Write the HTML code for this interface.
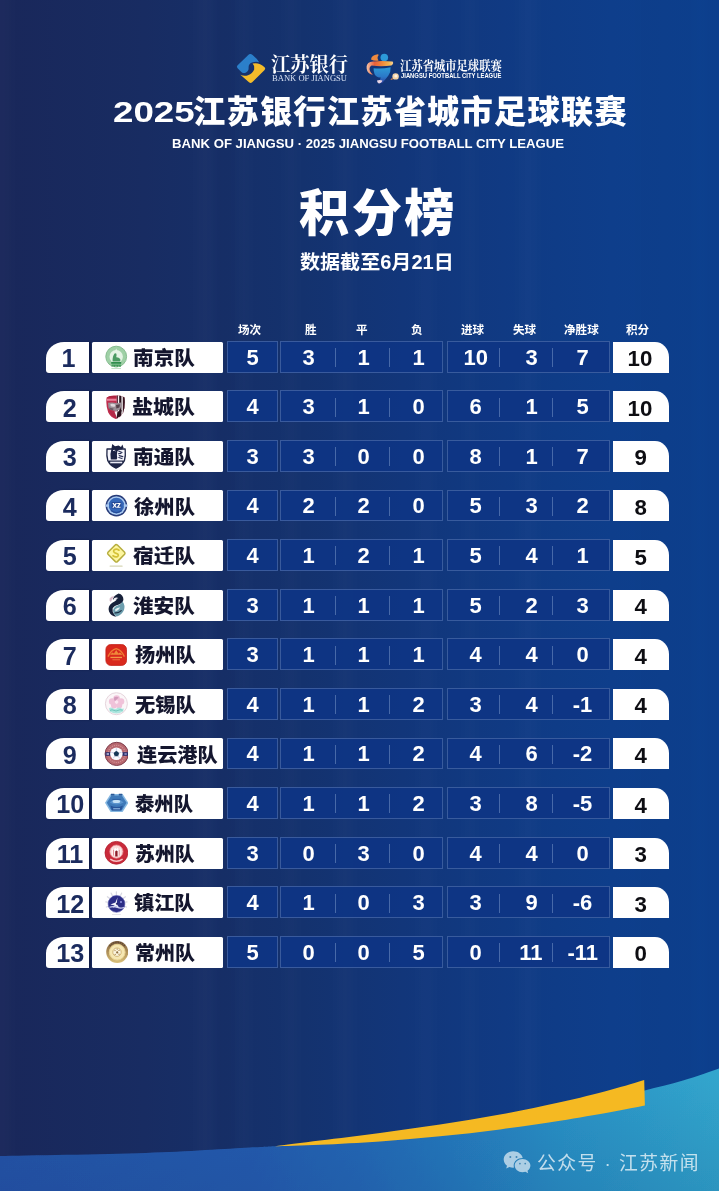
<!DOCTYPE html>
<html lang="zh-CN">
<head>
<meta charset="utf-8">
<title>2025江苏银行江苏省城市足球联赛 积分榜</title>
<style>
html,body{margin:0;padding:0;background:#14306f}
body{width:719px;height:1191px;overflow:hidden;font-family:"Liberation Sans",sans-serif}
.poster{position:relative;width:719px;height:1191px;overflow:hidden;background:#14306f}
.bg{position:absolute;left:0;top:0;width:719px;height:1191px;display:block}
h1,h2,p{margin:0;padding:0;font-weight:normal}
.t{position:absolute;display:block;line-height:0;white-space:nowrap}
.t svg{display:block;overflow:visible}
.t text{font-family:"Liberation Sans","Noto Sans CJK SC",sans-serif;text-anchor:middle}
.t text.n{font-size:22px;font-weight:bold;fill:#fff}
.t text.p{font-size:22.3px;font-weight:bold;fill:#0d0d12}
.t text.r{font-size:25.2px;font-weight:900;fill:#1b2b5e}
.t text.m{font-size:19.6px;font-weight:900;fill:#14162e}
.t text.h{font-size:11.6px;font-weight:bold;fill:#fff}
.t text.sf{font-family:"Liberation Serif","Noto Serif CJK SC",serif}
.hd,.tb,.wm{position:absolute;left:0;top:0;width:719px;height:0;filter:blur(.45px)}
.logo{position:absolute;height:32px;width:140px}
.logo>svg.ic{position:absolute;left:-1px;top:-1px;display:block}
.row{position:absolute;left:0;width:719px;height:31px}
.row>div{position:absolute;top:0;height:31px;box-sizing:border-box}
.rank{background:#fff;border-radius:18px 0 0 3px/16px 0 0 3px;box-shadow:1.5px 0 1.5px rgba(8,14,48,.5)}
.team{background:#fff;border-radius:1.5px}
.lg{position:absolute;left:12.6px;top:2.5px;width:24px;height:26px;display:block}
.lg svg{display:block;width:24px;height:26px}
.bx{background:rgba(14,53,132,.93);border:1px solid rgba(175,195,230,.27);top:-.8px!important;height:31.9px!important}
.bx .t{margin:-1px 0 0 -1px}
.bx s{position:absolute;top:6.2px;width:1px;height:19px;background:rgba(160,184,226,.4);margin-left:-1px}
.pts{background:#fff;border-radius:0 14px 0 0/0 15px 0 0}

</style>
</head>
<body>
<main class="poster">
<svg class="bg" width="719" height="1191" viewBox="0 0 719 1191" aria-hidden="true">
<defs>
<linearGradient id="bgH" x1="0" y1="0" x2="1" y2="0">
<stop offset="0" stop-color="#19275a"/><stop offset=".2" stop-color="#182c62"/><stop offset=".42" stop-color="#14326e"/><stop offset=".56" stop-color="#12367a"/><stop offset=".7" stop-color="#103a83"/><stop offset=".85" stop-color="#0e3e8b"/><stop offset="1" stop-color="#0c408f"/>
</linearGradient>
<linearGradient id="tealH" gradientUnits="userSpaceOnUse" x1="0" y1="0" x2="719" y2="0">
<stop offset="0" stop-color="#2655a8"/><stop offset=".35" stop-color="#255db0"/><stop offset=".5" stop-color="#256ab7"/><stop offset=".63" stop-color="#267bbe"/><stop offset=".78" stop-color="#2a92c6"/><stop offset="1" stop-color="#32a6cd"/>
</linearGradient>
<linearGradient id="tealV" gradientUnits="userSpaceOnUse" x1="0" y1="1075" x2="0" y2="1191"><stop offset="0" stop-color="#0a2060" stop-opacity="0"/><stop offset="1" stop-color="#0a2060" stop-opacity=".13"/></linearGradient>
<filter id="soft" filterUnits="userSpaceOnUse" x="-12" y="1040" width="743" height="163"><feGaussianBlur stdDeviation=".5"/></filter>
<filter id="sb" filterUnits="userSpaceOnUse" x="-30" y="-10" width="780" height="1211"><feGaussianBlur stdDeviation="4 0"/></filter>
</defs>
<rect width="719" height="1191" fill="url(#bgH)"/>
<g fill="#fff" fill-opacity=".017" filter="url(#sb)"><rect x="-8" width="18" height="1191"/><rect x="198" width="14" height="1191"/><rect x="240" width="8" height="1191"/><rect x="286" width="10" height="1191"/><rect x="338" width="14" height="1191"/><rect x="420" width="12" height="1191"/><rect x="466" width="8" height="1191"/><rect x="520" width="16" height="1191"/></g>
<g fill="#000" fill-opacity=".017" filter="url(#sb)"><rect x="214" width="22" height="1191"/><rect x="640" width="52" height="1191"/><rect x="706" width="13" height="1191"/></g>
<g filter="url(#soft)"><path d="M-12 1156L0.0 1155.9C24.3 1155.4 104.3 1154.3 146.0 1152.9C187.7 1151.5 228.2 1148.7 250.0 1147.5C271.8 1146.3 265.3 1146.7 277.0 1145.9C288.7 1145.1 302.8 1144.0 320.0 1142.6C337.2 1141.1 360.0 1139.2 380.0 1137.2C400.0 1135.2 420.0 1132.9 440.0 1130.4C460.0 1127.9 480.0 1125.2 500.0 1122.0C520.0 1118.8 541.7 1115.2 560.0 1111.5C578.3 1107.8 595.9 1103.5 610.0 1100.0C624.1 1096.5 632.5 1093.7 644.7 1090.5C656.9 1087.3 670.6 1084.3 683.0 1080.6C695.4 1076.9 713.0 1070.5 719.0 1068.5L731 1064L731 1203L-12 1203Z" fill="url(#tealH)"/><path d="M-12 1156L0.0 1155.9C24.3 1155.4 104.3 1154.3 146.0 1152.9C187.7 1151.5 228.2 1148.7 250.0 1147.5C271.8 1146.3 265.3 1146.7 277.0 1145.9C288.7 1145.1 302.8 1144.0 320.0 1142.6C337.2 1141.1 360.0 1139.2 380.0 1137.2C400.0 1135.2 420.0 1132.9 440.0 1130.4C460.0 1127.9 480.0 1125.2 500.0 1122.0C520.0 1118.8 541.7 1115.2 560.0 1111.5C578.3 1107.8 595.9 1103.5 610.0 1100.0C624.1 1096.5 632.5 1093.7 644.7 1090.5C656.9 1087.3 670.6 1084.3 683.0 1080.6C695.4 1076.9 713.0 1070.5 719.0 1068.5L731 1064L731 1203L-12 1203Z" fill="url(#tealV)"/>
<path d="M275.0 1146.2C282.5 1145.3 302.5 1142.8 320.0 1140.6C337.5 1138.4 360.0 1135.7 380.0 1133.0C400.0 1130.3 420.0 1127.7 440.0 1124.6C460.0 1121.5 480.0 1118.3 500.0 1114.6C520.0 1110.9 541.7 1106.4 560.0 1102.3C578.3 1098.2 596.0 1093.6 610.0 1089.9C624.0 1086.2 638.5 1081.6 644.2 1079.9L644.9 1105.6C639.1 1106.7 624.1 1109.8 610.0 1112.3C595.9 1114.8 578.3 1117.9 560.0 1120.8C541.7 1123.7 520.0 1126.8 500.0 1129.4C480.0 1132.0 460.0 1134.3 440.0 1136.3C420.0 1138.3 400.0 1140.0 380.0 1141.4C360.0 1142.8 337.5 1143.9 320.0 1144.7C302.5 1145.5 282.5 1146.0 275.0 1146.2Z" fill="#f5b922"/></g>
</svg>
<header class="hd">
<div class="logo bank" style="left:237px;top:53px"><svg class="ic" width="30" height="32" viewBox="236 52 30 32" aria-hidden="true">
<path d="M250.4 54.1Q249.2 54 248 55.2L237.4 65.6Q236.2 66.900 237.6 68.3L241.6 72.2Q243.5 73.6 245.6 72.8Q249 71 248.6 67.5Q248.4 64 252 62.6Q255.5 61.2 259.2 62.2Q257 58.6 252.6 55Q251.4 54.1 250.4 54.1Z" fill="#2b7fca"/>
<path d="M252.6 63.6Q258.6 61.8 264.6 67.2Q265.9 68.5 264.6 69.9L252.2 82.3Q250.6 83.7 249 82.3L240.4 74.7Q244 76.6 248 75.3Q252.6 73.4 254.2 69.4Q255 66 252.6 63.6Z" fill="#f4bc2b"/>
</svg>
<span class="t" style="left:31.57px;top:1.2px;width:81.2px;height:20.5px"><svg width="81.2" height="20.5" viewBox="0 0 81.2 20.5"><text class="sf" x="40.6" y="18.04" font-size="20.5" font-weight="bold" fill="#fff" textLength="77.2" lengthAdjust="spacingAndGlyphs">江苏银行</text></svg></span>
<span class="t" style="left:32.67px;top:21.25px;width:79.09px;height:7.9px"><svg width="79.09" height="7.9" viewBox="0 0 79.09 7.9"><text class="sf" x="39.55" y="6.95" font-size="7.9" fill="#d9e2f4" textLength="75.09" lengthAdjust="spacingAndGlyphs">BANK OF JIANGSU</text></svg></span>
</div>
<div class="logo league" style="left:365px;top:51px"><svg class="ic" width="36" height="36" viewBox="364 50 36 36" aria-hidden="true">
<defs><linearGradient id="lgA" x1="0" y1="0" x2="1" y2="0"><stop offset="0" stop-color="#f5c4a8"/><stop offset=".3" stop-color="#e9603a"/><stop offset=".6" stop-color="#f08a3a"/><stop offset=".85" stop-color="#f4b64e"/><stop offset="1" stop-color="#f6d09a"/></linearGradient>
<linearGradient id="lgB" x1="0" y1="0" x2="0" y2="1"><stop offset="0" stop-color="#2e9bd6"/><stop offset=".6" stop-color="#2a78c8"/><stop offset="1" stop-color="#3443a0"/></linearGradient></defs>
<path d="M371 59.6Q371.4 55 377.6 54.2Q379.4 54.4 378.4 55.6Q376.6 58 378.6 60.6Q374.6 61.4 371 59.6Z" fill="#f0893e"/>
<circle cx="384.3" cy="57.6" r="3.8" fill="#2c9ad9"/>
<path d="M366.6 66.6Q366.8 62 373 61.4Q384 60.6 392.6 61.6Q394.2 63.8 391.4 65.4Q382 66.8 371.6 65.6Q368.6 67.6 370 71Q371 73.4 373 74.6Q369.4 74.6 367.4 71.2Q366.4 69 366.6 66.6Z" fill="url(#lgA)"/>
<path d="M373.6 68.2Q381 69.4 390.6 67.2Q391 71.6 388.4 75.6Q385.6 79.6 382.2 83Q379.4 83.4 378 81.8Q380.6 79.8 380.8 77.6Q376.4 77.6 374.6 74.2Q373.4 71.4 373.6 68.2Z" fill="url(#lgB)"/>
<path d="M377 80.6Q379.6 79.4 382.4 80.6Q381.6 83.4 378.8 83.4Q377 82.8 377 80.6Z" fill="#e8d6e6"/>
<circle cx="395.6" cy="76.4" r="3.2" fill="#f6d2a6"/><circle cx="395.9" cy="76" r="1.5" fill="#fff3e2"/>
<path d="M390.4 79.6Q392.2 77.6 393.2 78.8Q392.4 80 390.4 79.6Z" fill="#ee8a44"/>
</svg>
<span class="t" style="left:32.96px;top:7.6px;width:105.84px;height:12.9px"><svg width="105.84" height="12.9" viewBox="0 0 105.84 12.9"><text class="sf" x="52.92" y="11.35" font-size="12.9" font-weight="bold" fill="#fff" textLength="101.84" lengthAdjust="spacingAndGlyphs">江苏省城市足球联赛</text></svg></span>
<span class="t" style="left:33.7px;top:21.06px;width:104.34px;height:6.3px"><svg width="104.34" height="6.3" viewBox="0 0 104.34 6.3"><text x="52.17" y="5.54" font-size="6.3" font-weight="bold" fill="#fff" textLength="100.34" lengthAdjust="spacingAndGlyphs">JIANGSU FOOTBALL CITY LEAGUE</text></svg></span>
</div>
<h1 class="ttl">
<span class="t" style="left:111.19px;top:96.24px;width:85.71px;height:29.5px"><svg width="85.71" height="29.5" viewBox="0 0 85.71 29.5"><text x="42.86" y="25.96" font-size="29.5" font-weight="900" fill="#fff" textLength="81.71" lengthAdjust="spacingAndGlyphs">2025</text></svg></span>
<span class="t" style="left:190.9px;top:95.38px;width:437.62px;height:32.3px"><svg width="437.62" height="32.3" viewBox="0 0 437.62 32.3"><text x="218.81" y="28.42" font-size="32.3" font-weight="900" fill="#fff" textLength="433.62" lengthAdjust="spacing">江苏银行江苏省城市足球联赛</text></svg></span>
</h1>
<p class="t" style="left:170.33px;top:137.1px;width:396.14px;height:12.5px"><svg width="396.14" height="12.5" viewBox="0 0 396.14 12.5"><text x="198.07" y="11" font-size="12.5" font-weight="bold" fill="#fff" textLength="392.14" lengthAdjust="spacingAndGlyphs">BANK OF JIANGSU · 2025 JIANGSU FOOTBALL CITY LEAGUE</text></svg></p>
<h2 class="t" style="left:296.5px;top:186.84px;width:159.57px;height:50.3px"><svg width="159.57" height="50.3" viewBox="0 0 159.57 50.3"><text x="79.79" y="44.26" font-size="50.3" font-weight="900" fill="#fff" textLength="155.57" lengthAdjust="spacing">积分榜</text></svg></h2>
<p class="t" style="left:297.76px;top:251.58px;width:157.77px;height:19.8px"><svg width="157.77" height="19.8" viewBox="0 0 157.77 19.8"><text x="78.89" y="17.42" font-size="19.8" font-weight="bold" fill="#fff" textLength="153.77" lengthAdjust="spacingAndGlyphs">数据截至6月21日</text></svg></p>
</header>
<section class="tb">
<div class="th">
<span class="t" style="left:236.19px;top:323.8px;width:27.2px;height:11.6px"><svg width="27.2" height="11.6" viewBox="0 0 27.2 11.6"><text class="h" x="13.6" y="10.21">场次</text></svg></span>
<span class="t" style="left:302.88px;top:323.8px;width:15.6px;height:11.6px"><svg width="15.6" height="11.6" viewBox="0 0 15.6 11.6"><text class="h" x="7.8" y="10.21">胜</text></svg></span>
<span class="t" style="left:354.28px;top:323.8px;width:15.6px;height:11.6px"><svg width="15.6" height="11.6" viewBox="0 0 15.6 11.6"><text class="h" x="7.8" y="10.21">平</text></svg></span>
<span class="t" style="left:409.25px;top:323.8px;width:15.6px;height:11.6px"><svg width="15.6" height="11.6" viewBox="0 0 15.6 11.6"><text class="h" x="7.8" y="10.21">负</text></svg></span>
<span class="t" style="left:459.16px;top:323.8px;width:27.2px;height:11.6px"><svg width="27.2" height="11.6" viewBox="0 0 27.2 11.6"><text class="h" x="13.6" y="10.21">进球</text></svg></span>
<span class="t" style="left:511.32px;top:323.8px;width:27.2px;height:11.6px"><svg width="27.2" height="11.6" viewBox="0 0 27.2 11.6"><text class="h" x="13.6" y="10.21">失球</text></svg></span>
<span class="t" style="left:561.9px;top:323.8px;width:38.8px;height:11.6px"><svg width="38.8" height="11.6" viewBox="0 0 38.8 11.6"><text class="h" x="19.4" y="10.21">净胜球</text></svg></span>
<span class="t" style="left:624.13px;top:323.8px;width:27.2px;height:11.6px"><svg width="27.2" height="11.6" viewBox="0 0 27.2 11.6"><text class="h" x="13.6" y="10.21">积分</text></svg></span>
</div>
<div class="row" style="top:341.55px">
<div class="rank" style="left:45.8px;width:43px"><span class="t" style="left:15.56px;top:3.42px;width:14.84px;height:25.2px"><svg width="14.84" height="25.2" viewBox="0 0 14.84 25.2"><text class="r" x="7.42" y="22.18">1</text></svg></span></div>
<div class="team" style="left:91.8px;width:130.9px"><span class="lg"><svg viewBox="0 0 24 26" width="24" height="26" aria-hidden="true"><circle cx="12.2" cy="12.6" r="10.4" fill="#9fd0a6"/><circle cx="12.2" cy="12.6" r="10.4" fill="none" stroke="#86bd90" stroke-width="1"/><circle cx="12.2" cy="12.8" r="6.7" fill="#e4f3e5"/><path d="M12.2 4.6L13.2 6.8L11.2 6.8Z" fill="#e9f6ea"/><path d="M8.6 17.4Q8.4 12 10.6 9.6Q11.6 8.6 12.4 9.8Q12.8 11.6 12.2 13.2Q14.8 13 16.2 15Q16.6 16.4 16.2 17.6Z" fill="#4a9a62"/><rect x="7.2" y="18" width="10" height="1.8" fill="#2f8d4c"/><path d="M7.6 20.6h9.2v2.2h-1.4v-1h-1.4v1h-1.4v-1h-1.4v1h-1.4v-1h-1.4v1H7.6Z" fill="#3d9658"/><rect x="7.4" y="24" width="9.6" height=".7" fill="#a9d6b0"/></svg></span><span class="t" style="left:39.48px;top:6.35px;width:65.99px;height:19.6px"><svg width="65.99" height="19.6" viewBox="0 0 65.99 19.6"><text class="m" x="33" y="17.25" textLength="61.99" lengthAdjust="spacingAndGlyphs">南京队</text></svg></span></div>
<div class="bx" style="left:227px;width:50.6px"><span class="t" style="left:17.21px;top:4.85px;width:16.98px;height:22px"><svg width="16.98" height="22" viewBox="0 0 16.98 22"><text class="n" x="8.49" y="19.36">5</text></svg></span></div>
<div class="bx" style="left:280px;width:163.4px"><span class="t" style="left:20.31px;top:4.85px;width:16.98px;height:22px"><svg width="16.98" height="22" viewBox="0 0 16.98 22"><text class="n" x="8.49" y="19.36">3</text></svg></span><span class="t" style="left:74.81px;top:4.85px;width:16.98px;height:22px"><svg width="16.98" height="22" viewBox="0 0 16.98 22"><text class="n" x="8.49" y="19.36">1</text></svg></span><span class="t" style="left:130.11px;top:4.85px;width:16.98px;height:22px"><svg width="16.98" height="22" viewBox="0 0 16.98 22"><text class="n" x="8.49" y="19.36">1</text></svg></span><s style="left:55.3px"></s><s style="left:109.2px"></s></div>
<div class="bx" style="left:446.8px;width:163px"><span class="t" style="left:13.77px;top:4.85px;width:29.66px;height:22px"><svg width="29.66" height="22" viewBox="0 0 29.66 22"><text class="n" x="14.83" y="19.36">10</text></svg></span><span class="t" style="left:76.01px;top:4.85px;width:16.98px;height:22px"><svg width="16.98" height="22" viewBox="0 0 16.98 22"><text class="n" x="8.49" y="19.36">3</text></svg></span><span class="t" style="left:127.41px;top:4.85px;width:16.98px;height:22px"><svg width="16.98" height="22" viewBox="0 0 16.98 22"><text class="n" x="8.49" y="19.36">7</text></svg></span><s style="left:51.9px"></s><s style="left:105.6px"></s></div>
<div class="pts" style="left:612.7px;width:56.5px"><span class="t" style="left:12.59px;top:4.7px;width:30.01px;height:22.3px"><svg width="30.01" height="22.3" viewBox="0 0 30.01 22.3"><text class="p" x="15" y="19.62">10</text></svg></span></div>
</div>
<div class="row" style="top:391.15px">
<div class="rank" style="left:45.8px;width:43px"><span class="t" style="left:14.35px;top:3.42px;width:19.35px;height:25.2px"><svg width="19.35" height="25.2" viewBox="0 0 19.35 25.2"><text class="r" x="9.68" y="22.18">2</text></svg></span></div>
<div class="team" style="left:91.8px;width:130.9px"><span class="lg"><svg viewBox="0 0 24 26" width="24" height="26" aria-hidden="true"><defs><clipPath id="c2"><path d="M2.6 3.6Q7 .8 12 1.6Q16.6 .8 20.6 3.400Q21.600 12 19.200 18.400Q16.400 23.400 11.800 25Q7 23.400 4.200 18.400Q1.600 12 2.600 3.600Z"/></clipPath></defs><g clip-path="url(#c2)"><rect width="24" height="26" fill="#bf2d4d"/><rect x="3" y="4.800" width="9.600" height="2" fill="#e8829a"/><rect x="3" y="2" width="10" height="1.600" fill="#a8243f"/><rect x="12.800" y="0" width="12" height="26" fill="#f6f2f4"/><rect x="12.800" y="0" width="1.100" height="26" fill="#4a2230"/><rect x="15.200" y="0" width="2.200" height="26" fill="#2a121c"/><rect x="18.800" y="0" width="3" height="26" fill="#3a1622"/><path d="M4 8.800Q8.600 7.800 12.600 9.200L17 8.600Q18 12 16.200 15.200L12.800 17Q8 17.400 4.600 14.200Z" fill="#9a8e96"/><path d="M6.400 10Q9 9.400 11.400 10.400L11 12.400Q8.800 13 6.800 12.200Z" fill="#ddd6da"/><path d="M12 11L16 10.200L15.400 13.600L12.400 14.400Z" fill="#54404a"/><path d="M5 13.600L9.600 14.400L9 16.400L5.800 15.600Z" fill="#6c5a64"/><path d="M4.400 15.600Q6.800 21.400 11.400 24.600L12.400 17.200L8 17.400Z" fill="#b32947"/><path d="M10.400 17.600L12.800 23.600L15.400 17Z" fill="#f7f2f4"/><path d="M12.600 24.800L13.400 17.800L17.800 16L16 22Z" fill="#2c131d"/></g></svg></span><span class="t" style="left:38.61px;top:6.35px;width:66.86px;height:19.6px"><svg width="66.86" height="19.6" viewBox="0 0 66.86 19.6"><text class="m" x="33.43" y="17.25" textLength="62.86" lengthAdjust="spacingAndGlyphs">盐城队</text></svg></span></div>
<div class="bx" style="left:227px;width:50.6px"><span class="t" style="left:17.21px;top:4.85px;width:16.98px;height:22px"><svg width="16.98" height="22" viewBox="0 0 16.98 22"><text class="n" x="8.49" y="19.36">4</text></svg></span></div>
<div class="bx" style="left:280px;width:163.4px"><span class="t" style="left:20.31px;top:4.85px;width:16.98px;height:22px"><svg width="16.98" height="22" viewBox="0 0 16.98 22"><text class="n" x="8.49" y="19.36">3</text></svg></span><span class="t" style="left:74.81px;top:4.85px;width:16.98px;height:22px"><svg width="16.98" height="22" viewBox="0 0 16.98 22"><text class="n" x="8.49" y="19.36">1</text></svg></span><span class="t" style="left:130.11px;top:4.85px;width:16.98px;height:22px"><svg width="16.98" height="22" viewBox="0 0 16.98 22"><text class="n" x="8.49" y="19.36">0</text></svg></span><s style="left:55.3px"></s><s style="left:109.2px"></s></div>
<div class="bx" style="left:446.8px;width:163px"><span class="t" style="left:20.11px;top:4.85px;width:16.98px;height:22px"><svg width="16.98" height="22" viewBox="0 0 16.98 22"><text class="n" x="8.49" y="19.36">6</text></svg></span><span class="t" style="left:76.01px;top:4.85px;width:16.98px;height:22px"><svg width="16.98" height="22" viewBox="0 0 16.98 22"><text class="n" x="8.49" y="19.36">1</text></svg></span><span class="t" style="left:127.41px;top:4.85px;width:16.98px;height:22px"><svg width="16.98" height="22" viewBox="0 0 16.98 22"><text class="n" x="8.49" y="19.36">5</text></svg></span><s style="left:51.9px"></s><s style="left:105.6px"></s></div>
<div class="pts" style="left:612.7px;width:56.5px"><span class="t" style="left:12.59px;top:4.7px;width:30.01px;height:22.3px"><svg width="30.01" height="22.3" viewBox="0 0 30.01 22.3"><text class="p" x="15" y="19.62">10</text></svg></span></div>
</div>
<div class="row" style="top:440.75px">
<div class="rank" style="left:45.8px;width:43px"><span class="t" style="left:14.52px;top:3.42px;width:19.35px;height:25.2px"><svg width="19.35" height="25.2" viewBox="0 0 19.35 25.2"><text class="r" x="9.68" y="22.18">3</text></svg></span></div>
<div class="team" style="left:91.8px;width:130.9px"><span class="lg"><svg viewBox="0 0 24 26" width="24" height="26" aria-hidden="true"><path d="M3 6L21.200 6Q21.800 13 20.400 17.800Q17.600 23 12 25.200Q6.400 23 3.800 17.800Q2.400 13 3 6Z" fill="#f6f6fc" stroke="#1e2546" stroke-width="1.300" stroke-linejoin="round"/><path d="M7.400 6L8.200 1L11 3.200L14.600 2.400L17 4L18.400 1.600L19.600 5L17.400 6.400Q13.600 6.200 13.200 9Q12.600 12 13.200 15L12.600 16.600L6.800 16.600Q5.800 11 7.400 6Z" fill="#1c2344"/><path d="M9 7.600Q10.400 6.800 11.400 8" stroke="#e8e8f4" stroke-width=".9" fill="none"/><path d="M14.600 8L18 9.600M14.400 10.800L17 10.400M15.200 12.600L18.800 13.600M14.800 14.600L18 15.600" stroke="#2a3156" stroke-width="1.100" fill="none" stroke-linecap="round"/><path d="M4 17.400L20.600 17.400Q17.600 23 12 25.200Q6.400 23 4 17.400Z" fill="#1e2546"/><rect x="6.200" y="18.700" width="12" height="1.600" fill="#e9e9f4"/></svg></span><span class="t" style="left:39.48px;top:6.35px;width:65.99px;height:19.6px"><svg width="65.99" height="19.6" viewBox="0 0 65.99 19.6"><text class="m" x="33" y="17.25" textLength="61.99" lengthAdjust="spacingAndGlyphs">南通队</text></svg></span></div>
<div class="bx" style="left:227px;width:50.6px"><span class="t" style="left:17.21px;top:4.85px;width:16.98px;height:22px"><svg width="16.98" height="22" viewBox="0 0 16.98 22"><text class="n" x="8.49" y="19.36">3</text></svg></span></div>
<div class="bx" style="left:280px;width:163.4px"><span class="t" style="left:20.31px;top:4.85px;width:16.98px;height:22px"><svg width="16.98" height="22" viewBox="0 0 16.98 22"><text class="n" x="8.49" y="19.36">3</text></svg></span><span class="t" style="left:74.81px;top:4.85px;width:16.98px;height:22px"><svg width="16.98" height="22" viewBox="0 0 16.98 22"><text class="n" x="8.49" y="19.36">0</text></svg></span><span class="t" style="left:130.11px;top:4.85px;width:16.98px;height:22px"><svg width="16.98" height="22" viewBox="0 0 16.98 22"><text class="n" x="8.49" y="19.36">0</text></svg></span><s style="left:55.3px"></s><s style="left:109.2px"></s></div>
<div class="bx" style="left:446.8px;width:163px"><span class="t" style="left:20.11px;top:4.85px;width:16.98px;height:22px"><svg width="16.98" height="22" viewBox="0 0 16.98 22"><text class="n" x="8.49" y="19.36">8</text></svg></span><span class="t" style="left:76.01px;top:4.85px;width:16.98px;height:22px"><svg width="16.98" height="22" viewBox="0 0 16.98 22"><text class="n" x="8.49" y="19.36">1</text></svg></span><span class="t" style="left:127.41px;top:4.85px;width:16.98px;height:22px"><svg width="16.98" height="22" viewBox="0 0 16.98 22"><text class="n" x="8.49" y="19.36">7</text></svg></span><s style="left:51.9px"></s><s style="left:105.6px"></s></div>
<div class="pts" style="left:612.7px;width:56.5px"><span class="t" style="left:19.02px;top:4.7px;width:17.16px;height:22.3px"><svg width="17.16" height="22.3" viewBox="0 0 17.16 22.3"><text class="p" x="8.58" y="19.62">9</text></svg></span></div>
</div>
<div class="row" style="top:490.35px">
<div class="rank" style="left:45.8px;width:43px"><span class="t" style="left:14.18px;top:3.42px;width:19.35px;height:25.2px"><svg width="19.35" height="25.2" viewBox="0 0 19.35 25.2"><text class="r" x="9.68" y="22.18">4</text></svg></span></div>
<div class="team" style="left:91.8px;width:130.9px"><span class="lg"><svg viewBox="0 0 24 26" width="24" height="26" aria-hidden="true"><circle cx="12.4" cy="12.6" r="10.8" fill="#273b79"/><circle cx="12.4" cy="12.6" r="9.4" fill="#a9c9f0"/><circle cx="12.4" cy="12.6" r="7.8" fill="#3567b8"/><rect x="1.6" y="11.4" width="3.4" height="2.4" fill="#a9c9f0"/><rect x="19.8" y="11.4" width="3.4" height="2.4" fill="#a9c9f0"/><rect x="7.6" y="9" width="9.6" height="6.6" rx=".6" fill="#254a97"/><path d="M8.4 10L9.8 10L10.7 11.6L11.6 10L13 10L11.5 12.4L13.1 14.8L11.7 14.8L10.7 13.2L9.7 14.8L8.3 14.8L9.9 12.4ZM13.2 10L16.6 10L16.6 10.8L14.6 13.8L16.6 13.8L16.6 14.8L13 14.8L13 14L15 11L13.2 11Z" fill="#fff"/><path d="M7 17.6Q12.4 21.6 17.8 17.6" stroke="#274c98" stroke-width="1.3" fill="none"/></svg></span><span class="t" style="left:40.33px;top:6.35px;width:65.14px;height:19.6px"><svg width="65.14" height="19.6" viewBox="0 0 65.14 19.6"><text class="m" x="32.57" y="17.25" textLength="61.14" lengthAdjust="spacingAndGlyphs">徐州队</text></svg></span></div>
<div class="bx" style="left:227px;width:50.6px"><span class="t" style="left:17.21px;top:4.85px;width:16.98px;height:22px"><svg width="16.98" height="22" viewBox="0 0 16.98 22"><text class="n" x="8.49" y="19.36">4</text></svg></span></div>
<div class="bx" style="left:280px;width:163.4px"><span class="t" style="left:20.31px;top:4.85px;width:16.98px;height:22px"><svg width="16.98" height="22" viewBox="0 0 16.98 22"><text class="n" x="8.49" y="19.36">2</text></svg></span><span class="t" style="left:74.81px;top:4.85px;width:16.98px;height:22px"><svg width="16.98" height="22" viewBox="0 0 16.98 22"><text class="n" x="8.49" y="19.36">2</text></svg></span><span class="t" style="left:130.11px;top:4.85px;width:16.98px;height:22px"><svg width="16.98" height="22" viewBox="0 0 16.98 22"><text class="n" x="8.49" y="19.36">0</text></svg></span><s style="left:55.3px"></s><s style="left:109.2px"></s></div>
<div class="bx" style="left:446.8px;width:163px"><span class="t" style="left:20.11px;top:4.85px;width:16.98px;height:22px"><svg width="16.98" height="22" viewBox="0 0 16.98 22"><text class="n" x="8.49" y="19.36">5</text></svg></span><span class="t" style="left:76.01px;top:4.85px;width:16.98px;height:22px"><svg width="16.98" height="22" viewBox="0 0 16.98 22"><text class="n" x="8.49" y="19.36">3</text></svg></span><span class="t" style="left:127.41px;top:4.85px;width:16.98px;height:22px"><svg width="16.98" height="22" viewBox="0 0 16.98 22"><text class="n" x="8.49" y="19.36">2</text></svg></span><s style="left:51.9px"></s><s style="left:105.6px"></s></div>
<div class="pts" style="left:612.7px;width:56.5px"><span class="t" style="left:19.02px;top:4.7px;width:17.16px;height:22.3px"><svg width="17.16" height="22.3" viewBox="0 0 17.16 22.3"><text class="p" x="8.58" y="19.62">8</text></svg></span></div>
</div>
<div class="row" style="top:539.95px">
<div class="rank" style="left:45.8px;width:43px"><span class="t" style="left:14.5px;top:3.42px;width:19.35px;height:25.2px"><svg width="19.35" height="25.2" viewBox="0 0 19.35 25.2"><text class="r" x="9.68" y="22.18">5</text></svg></span></div>
<div class="team" style="left:91.8px;width:130.9px"><span class="lg"><svg viewBox="0 0 24 26" width="24" height="26" aria-hidden="true"><path d="M12 2.4Q12.8 2.4 13.4 3L20.6 10.2Q21.4 11.2 20.6 12.2L13.4 19.6Q12.4 20.4 11.4 19.6L4 12.2Q3.2 11.2 4 10.2L11.2 3Q11.6 2.4 12 2.4Z" fill="#fdf6a0" stroke="#b7ae3e" stroke-width="1.5"/><path d="M15 8.2Q12.6 6.4 10.2 7.8Q8.8 9.6 10.8 10.8L13.6 12Q15 13.2 13.6 14.4Q11.4 15.6 9 13.8" stroke="#d4c136" stroke-width="1.7" fill="none" stroke-linecap="round"/><rect x="5.6" y="23.4" width="13" height="1.3" rx=".5" fill="#cfcfa8" opacity=".85"/></svg></span><span class="t" style="left:39.23px;top:6.35px;width:66.24px;height:19.6px"><svg width="66.24" height="19.6" viewBox="0 0 66.24 19.6"><text class="m" x="33.12" y="17.25" textLength="62.24" lengthAdjust="spacingAndGlyphs">宿迁队</text></svg></span></div>
<div class="bx" style="left:227px;width:50.6px"><span class="t" style="left:17.21px;top:4.85px;width:16.98px;height:22px"><svg width="16.98" height="22" viewBox="0 0 16.98 22"><text class="n" x="8.49" y="19.36">4</text></svg></span></div>
<div class="bx" style="left:280px;width:163.4px"><span class="t" style="left:20.31px;top:4.85px;width:16.98px;height:22px"><svg width="16.98" height="22" viewBox="0 0 16.98 22"><text class="n" x="8.49" y="19.36">1</text></svg></span><span class="t" style="left:74.81px;top:4.85px;width:16.98px;height:22px"><svg width="16.98" height="22" viewBox="0 0 16.98 22"><text class="n" x="8.49" y="19.36">2</text></svg></span><span class="t" style="left:130.11px;top:4.85px;width:16.98px;height:22px"><svg width="16.98" height="22" viewBox="0 0 16.98 22"><text class="n" x="8.49" y="19.36">1</text></svg></span><s style="left:55.3px"></s><s style="left:109.2px"></s></div>
<div class="bx" style="left:446.8px;width:163px"><span class="t" style="left:20.11px;top:4.85px;width:16.98px;height:22px"><svg width="16.98" height="22" viewBox="0 0 16.98 22"><text class="n" x="8.49" y="19.36">5</text></svg></span><span class="t" style="left:76.01px;top:4.85px;width:16.98px;height:22px"><svg width="16.98" height="22" viewBox="0 0 16.98 22"><text class="n" x="8.49" y="19.36">4</text></svg></span><span class="t" style="left:127.41px;top:4.85px;width:16.98px;height:22px"><svg width="16.98" height="22" viewBox="0 0 16.98 22"><text class="n" x="8.49" y="19.36">1</text></svg></span><s style="left:51.9px"></s><s style="left:105.6px"></s></div>
<div class="pts" style="left:612.7px;width:56.5px"><span class="t" style="left:19.02px;top:4.7px;width:17.16px;height:22.3px"><svg width="17.16" height="22.3" viewBox="0 0 17.16 22.3"><text class="p" x="8.58" y="19.62">5</text></svg></span></div>
</div>
<div class="row" style="top:589.55px">
<div class="rank" style="left:45.8px;width:43px"><span class="t" style="left:14.05px;top:3.42px;width:19.35px;height:25.2px"><svg width="19.35" height="25.2" viewBox="0 0 19.35 25.2"><text class="r" x="9.68" y="22.18">6</text></svg></span></div>
<div class="team" style="left:91.8px;width:130.9px"><span class="lg"><svg viewBox="0 0 24 26" width="24" height="26" aria-hidden="true"><path d="M14.6 1.4Q19.4 2.6 19.4 7.6Q19 11.2 15 12.4Q10 13.6 8.6 16.4Q8 19.6 10.4 22.4Q11.8 24 12.4 24.8Q7 24 5 19.4Q3.4 14.4 8 11Q11.4 9 13 7.4Q11 6.6 8.8 7.4Q9.6 3.4 14.6 1.4Z" fill="#172039"/><path d="M18.6 9.6Q21.4 13.4 20 18Q18 22.8 12.8 24.6Q9.4 22.6 9 18.4Q9.6 15 13.6 13.6Q17.4 12.4 18.6 9.6Z" fill="#6d9eae"/><path d="M11 17.4Q13.4 15.4 16.2 15.6Q14.6 18.4 11.6 19.4Z" fill="#e6f1f4"/><path d="M10.6 20.8Q14.6 21.4 17.6 18.4" stroke="#1d3348" stroke-width="1.2" fill="none"/><path d="M5.6 6.4Q7.6 4 10.2 4.4Q7.8 6.6 7 10Q5 9 5.6 6.4Z" fill="#cfaabd" opacity=".8"/><path d="M9.8 6.4Q12.2 5 14.4 6Q12 7 10.4 8.4Z" fill="#f3f3f8"/></svg></span><span class="t" style="left:39.63px;top:6.35px;width:65.84px;height:19.6px"><svg width="65.84" height="19.6" viewBox="0 0 65.84 19.6"><text class="m" x="32.92" y="17.25" textLength="61.84" lengthAdjust="spacingAndGlyphs">淮安队</text></svg></span></div>
<div class="bx" style="left:227px;width:50.6px"><span class="t" style="left:17.21px;top:4.85px;width:16.98px;height:22px"><svg width="16.98" height="22" viewBox="0 0 16.98 22"><text class="n" x="8.49" y="19.36">3</text></svg></span></div>
<div class="bx" style="left:280px;width:163.4px"><span class="t" style="left:20.31px;top:4.85px;width:16.98px;height:22px"><svg width="16.98" height="22" viewBox="0 0 16.98 22"><text class="n" x="8.49" y="19.36">1</text></svg></span><span class="t" style="left:74.81px;top:4.85px;width:16.98px;height:22px"><svg width="16.98" height="22" viewBox="0 0 16.98 22"><text class="n" x="8.49" y="19.36">1</text></svg></span><span class="t" style="left:130.11px;top:4.85px;width:16.98px;height:22px"><svg width="16.98" height="22" viewBox="0 0 16.98 22"><text class="n" x="8.49" y="19.36">1</text></svg></span><s style="left:55.3px"></s><s style="left:109.2px"></s></div>
<div class="bx" style="left:446.8px;width:163px"><span class="t" style="left:20.11px;top:4.85px;width:16.98px;height:22px"><svg width="16.98" height="22" viewBox="0 0 16.98 22"><text class="n" x="8.49" y="19.36">5</text></svg></span><span class="t" style="left:76.01px;top:4.85px;width:16.98px;height:22px"><svg width="16.98" height="22" viewBox="0 0 16.98 22"><text class="n" x="8.49" y="19.36">2</text></svg></span><span class="t" style="left:127.41px;top:4.85px;width:16.98px;height:22px"><svg width="16.98" height="22" viewBox="0 0 16.98 22"><text class="n" x="8.49" y="19.36">3</text></svg></span><s style="left:51.9px"></s><s style="left:105.6px"></s></div>
<div class="pts" style="left:612.7px;width:56.5px"><span class="t" style="left:19.02px;top:4.7px;width:17.16px;height:22.3px"><svg width="17.16" height="22.3" viewBox="0 0 17.16 22.3"><text class="p" x="8.58" y="19.62">4</text></svg></span></div>
</div>
<div class="row" style="top:639.15px">
<div class="rank" style="left:45.8px;width:43px"><span class="t" style="left:14.09px;top:3.42px;width:19.35px;height:25.2px"><svg width="19.35" height="25.2" viewBox="0 0 19.35 25.2"><text class="r" x="9.68" y="22.18">7</text></svg></span></div>
<div class="team" style="left:91.8px;width:130.9px"><span class="lg"><svg viewBox="0 0 24 26" width="24" height="26" aria-hidden="true"><rect x="1.9" y="2.6" width="20.6" height="20.8" rx="4.8" fill="#d9291d"/><rect x="1.9" y="2.6" width="20.6" height="20.8" rx="4.8" fill="none" stroke="#c21f17" stroke-width=".8"/><path d="M4 14.6Q7 8 12.2 6.6Q17.4 8 20.4 14.6" fill="none" stroke="#ef7d34" stroke-width="1.4"/><path d="M6 12.8L8.4 10.4L10 11.6L12.2 8L14.4 11.6L16 10.4L18.4 12.8Z" fill="#f08a3a"/><rect x="6.4" y="14.8" width="11.6" height="1.3" fill="#f29a46"/><rect x="8.4" y="17.2" width="7.6" height="1.1" fill="#ea6a38"/></svg></span><span class="t" style="left:40.72px;top:6.35px;width:64.75px;height:19.6px"><svg width="64.75" height="19.6" viewBox="0 0 64.75 19.6"><text class="m" x="32.38" y="17.25" textLength="60.75" lengthAdjust="spacingAndGlyphs">扬州队</text></svg></span></div>
<div class="bx" style="left:227px;width:50.6px"><span class="t" style="left:17.21px;top:4.85px;width:16.98px;height:22px"><svg width="16.98" height="22" viewBox="0 0 16.98 22"><text class="n" x="8.49" y="19.36">3</text></svg></span></div>
<div class="bx" style="left:280px;width:163.4px"><span class="t" style="left:20.31px;top:4.85px;width:16.98px;height:22px"><svg width="16.98" height="22" viewBox="0 0 16.98 22"><text class="n" x="8.49" y="19.36">1</text></svg></span><span class="t" style="left:74.81px;top:4.85px;width:16.98px;height:22px"><svg width="16.98" height="22" viewBox="0 0 16.98 22"><text class="n" x="8.49" y="19.36">1</text></svg></span><span class="t" style="left:130.11px;top:4.85px;width:16.98px;height:22px"><svg width="16.98" height="22" viewBox="0 0 16.98 22"><text class="n" x="8.49" y="19.36">1</text></svg></span><s style="left:55.3px"></s><s style="left:109.2px"></s></div>
<div class="bx" style="left:446.8px;width:163px"><span class="t" style="left:20.11px;top:4.85px;width:16.98px;height:22px"><svg width="16.98" height="22" viewBox="0 0 16.98 22"><text class="n" x="8.49" y="19.36">4</text></svg></span><span class="t" style="left:76.01px;top:4.85px;width:16.98px;height:22px"><svg width="16.98" height="22" viewBox="0 0 16.98 22"><text class="n" x="8.49" y="19.36">4</text></svg></span><span class="t" style="left:127.41px;top:4.85px;width:16.98px;height:22px"><svg width="16.98" height="22" viewBox="0 0 16.98 22"><text class="n" x="8.49" y="19.36">0</text></svg></span><s style="left:51.9px"></s><s style="left:105.6px"></s></div>
<div class="pts" style="left:612.7px;width:56.5px"><span class="t" style="left:19.02px;top:4.7px;width:17.16px;height:22.3px"><svg width="17.16" height="22.3" viewBox="0 0 17.16 22.3"><text class="p" x="8.58" y="19.62">4</text></svg></span></div>
</div>
<div class="row" style="top:688.75px">
<div class="rank" style="left:45.8px;width:43px"><span class="t" style="left:14.1px;top:3.42px;width:19.35px;height:25.2px"><svg width="19.35" height="25.2" viewBox="0 0 19.35 25.2"><text class="r" x="9.68" y="22.18">8</text></svg></span></div>
<div class="team" style="left:91.8px;width:130.9px"><span class="lg"><svg viewBox="0 0 24 26" width="24" height="26" aria-hidden="true"><circle cx="12.4" cy="12.7" r="11" fill="#fbf6f8" stroke="#e6d5dd" stroke-width="1"/><g fill="#f0c2d9"><circle cx="12.6" cy="7.6" r="3.3"/><circle cx="8.2" cy="10.6" r="3.3"/><circle cx="17" cy="10.6" r="3.3"/><circle cx="10" cy="14.6" r="3"/><circle cx="15.2" cy="14.6" r="3"/></g><path d="M10 6.6Q12.6 4.6 14.8 6.8Q12.4 8 11.4 10.6Q9.6 9 10 6.6Z" fill="#d19bbb"/><circle cx="12.6" cy="11" r="1.8" fill="#fbe6f0"/><path d="M5 17.2Q7 15.8 9 17.2T13 17.2T17 17.2T20 17L19 20.6Q12.4 24.6 5.8 20.6Z" fill="#aee6df"/><path d="M6 19.4Q8 18.2 10 19.4T14 19.4T18.6 19.2" stroke="#6fc6bb" stroke-width="1" fill="none"/></svg></span><span class="t" style="left:40.72px;top:6.35px;width:64.75px;height:19.6px"><svg width="64.75" height="19.6" viewBox="0 0 64.75 19.6"><text class="m" x="32.38" y="17.25" textLength="60.75" lengthAdjust="spacingAndGlyphs">无锡队</text></svg></span></div>
<div class="bx" style="left:227px;width:50.6px"><span class="t" style="left:17.21px;top:4.85px;width:16.98px;height:22px"><svg width="16.98" height="22" viewBox="0 0 16.98 22"><text class="n" x="8.49" y="19.36">4</text></svg></span></div>
<div class="bx" style="left:280px;width:163.4px"><span class="t" style="left:20.31px;top:4.85px;width:16.98px;height:22px"><svg width="16.98" height="22" viewBox="0 0 16.98 22"><text class="n" x="8.49" y="19.36">1</text></svg></span><span class="t" style="left:74.81px;top:4.85px;width:16.98px;height:22px"><svg width="16.98" height="22" viewBox="0 0 16.98 22"><text class="n" x="8.49" y="19.36">1</text></svg></span><span class="t" style="left:130.11px;top:4.85px;width:16.98px;height:22px"><svg width="16.98" height="22" viewBox="0 0 16.98 22"><text class="n" x="8.49" y="19.36">2</text></svg></span><s style="left:55.3px"></s><s style="left:109.2px"></s></div>
<div class="bx" style="left:446.8px;width:163px"><span class="t" style="left:20.11px;top:4.85px;width:16.98px;height:22px"><svg width="16.98" height="22" viewBox="0 0 16.98 22"><text class="n" x="8.49" y="19.36">3</text></svg></span><span class="t" style="left:76.01px;top:4.85px;width:16.98px;height:22px"><svg width="16.98" height="22" viewBox="0 0 16.98 22"><text class="n" x="8.49" y="19.36">4</text></svg></span><span class="t" style="left:123.49px;top:4.85px;width:24.82px;height:22px"><svg width="24.82" height="22" viewBox="0 0 24.82 22"><text class="n" x="12.41" y="19.36">-1</text></svg></span><s style="left:51.9px"></s><s style="left:105.6px"></s></div>
<div class="pts" style="left:612.7px;width:56.5px"><span class="t" style="left:19.02px;top:4.7px;width:17.16px;height:22.3px"><svg width="17.16" height="22.3" viewBox="0 0 17.16 22.3"><text class="p" x="8.58" y="19.62">4</text></svg></span></div>
</div>
<div class="row" style="top:738.35px">
<div class="rank" style="left:45.8px;width:43px"><span class="t" style="left:14.25px;top:3.42px;width:19.35px;height:25.2px"><svg width="19.35" height="25.2" viewBox="0 0 19.35 25.2"><text class="r" x="9.68" y="22.18">9</text></svg></span></div>
<div class="team" style="left:91.8px;width:130.9px"><span class="lg"><svg viewBox="0 0 24 26" width="24" height="26" aria-hidden="true"><circle cx="12.7" cy="12.9" r="11.6" fill="#b8686f"/><circle cx="12.7" cy="12.9" r="11.6" fill="none" stroke="#7f3d4c" stroke-width="1"/><circle cx="12.7" cy="12.9" r="8.6" fill="none" stroke="#d18e93" stroke-width="1.2" stroke-dasharray="1.2 1"/><rect x="1.4" y="11.2" width="22.6" height="3.6" fill="#2c2f6c"/><rect x="2.6" y="12.2" width="2.4" height="1.6" fill="#b9bcdc"/><rect x="20.4" y="12.2" width="2.4" height="1.6" fill="#8f93c8"/><circle cx="12.4" cy="12.8" r="6.300" fill="#fbfbff"/><path d="M12.400 9.800L15.200 11.900L14.100 15.200L10.700 15.200L9.600 11.900Z" fill="#153656"/><path d="M12.4 7.2v3M17.6 11.2l-2.8.8M15.6 17.4l-1.7-2.6M9.200 17.4l1.700-2.600M7.200 11.200l2.800.8" stroke="#c9cbe6" stroke-width=".9"/></svg></span><span class="t" style="left:42.78px;top:6.35px;width:84.69px;height:19.6px"><svg width="84.69" height="19.6" viewBox="0 0 84.69 19.6"><text class="m" x="42.35" y="17.25" textLength="80.69" lengthAdjust="spacingAndGlyphs">连云港队</text></svg></span></div>
<div class="bx" style="left:227px;width:50.6px"><span class="t" style="left:17.21px;top:4.85px;width:16.98px;height:22px"><svg width="16.98" height="22" viewBox="0 0 16.98 22"><text class="n" x="8.49" y="19.36">4</text></svg></span></div>
<div class="bx" style="left:280px;width:163.4px"><span class="t" style="left:20.31px;top:4.85px;width:16.98px;height:22px"><svg width="16.98" height="22" viewBox="0 0 16.98 22"><text class="n" x="8.49" y="19.36">1</text></svg></span><span class="t" style="left:74.81px;top:4.85px;width:16.98px;height:22px"><svg width="16.98" height="22" viewBox="0 0 16.98 22"><text class="n" x="8.49" y="19.36">1</text></svg></span><span class="t" style="left:130.11px;top:4.85px;width:16.98px;height:22px"><svg width="16.98" height="22" viewBox="0 0 16.98 22"><text class="n" x="8.49" y="19.36">2</text></svg></span><s style="left:55.3px"></s><s style="left:109.2px"></s></div>
<div class="bx" style="left:446.8px;width:163px"><span class="t" style="left:20.11px;top:4.85px;width:16.98px;height:22px"><svg width="16.98" height="22" viewBox="0 0 16.98 22"><text class="n" x="8.49" y="19.36">4</text></svg></span><span class="t" style="left:76.01px;top:4.85px;width:16.98px;height:22px"><svg width="16.98" height="22" viewBox="0 0 16.98 22"><text class="n" x="8.49" y="19.36">6</text></svg></span><span class="t" style="left:123.49px;top:4.85px;width:24.82px;height:22px"><svg width="24.82" height="22" viewBox="0 0 24.82 22"><text class="n" x="12.41" y="19.36">-2</text></svg></span><s style="left:51.9px"></s><s style="left:105.6px"></s></div>
<div class="pts" style="left:612.7px;width:56.5px"><span class="t" style="left:19.02px;top:4.7px;width:17.16px;height:22.3px"><svg width="17.16" height="22.3" viewBox="0 0 17.16 22.3"><text class="p" x="8.58" y="19.62">4</text></svg></span></div>
</div>
<div class="row" style="top:787.95px">
<div class="rank" style="left:45.8px;width:43px"><span class="t" style="left:9.27px;top:3.42px;width:30.53px;height:25.2px"><svg width="30.53" height="25.2" viewBox="0 0 30.53 25.2"><text class="r" x="15.27" y="22.18">10</text></svg></span></div>
<div class="team" style="left:91.8px;width:130.9px"><span class="lg"><svg viewBox="0 0 24 26" width="24" height="26" aria-hidden="true"><path d="M1 12.800L6.600 4L18.600 4L24.400 12.800L18.600 22L6.600 22Z" fill="#86b8e2"/><path d="M2.800 12.800L7.400 5.400L17.800 5.400L22.600 12.800L17.800 20.600L7.400 20.600Z" fill="#3f7ab9"/><path d="M7 3.800h3.400v1.800H7zM14.800 3.800h3.400v1.800h-3.400z" fill="#2a5896"/><path d="M5.800 12.400Q12.600 5.800 19.600 12.400Q12.600 16.600 5.800 12.400Z" fill="#5b95cf"/><ellipse cx="12.400" cy="11.400" rx="3.800" ry="1.600" fill="#c4e1f6"/><path d="M8.400 9.400h8.400" stroke="#2c5ea2" stroke-width="1"/><path d="M6.400 15.400Q12.600 18.800 19 15.400L17.200 20.600L8 20.600Z" fill="#27549a"/><rect x="9.200" y="18.200" width="6.800" height="1.100" fill="#8db6e0"/></svg></span><span class="t" style="left:41.13px;top:6.35px;width:62.14px;height:19.6px"><svg width="62.14" height="19.6" viewBox="0 0 62.14 19.6"><text class="m" x="31.07" y="17.25" textLength="58.14" lengthAdjust="spacingAndGlyphs">泰州队</text></svg></span></div>
<div class="bx" style="left:227px;width:50.6px"><span class="t" style="left:17.21px;top:4.85px;width:16.98px;height:22px"><svg width="16.98" height="22" viewBox="0 0 16.98 22"><text class="n" x="8.49" y="19.36">4</text></svg></span></div>
<div class="bx" style="left:280px;width:163.4px"><span class="t" style="left:20.31px;top:4.85px;width:16.98px;height:22px"><svg width="16.98" height="22" viewBox="0 0 16.98 22"><text class="n" x="8.49" y="19.36">1</text></svg></span><span class="t" style="left:74.81px;top:4.85px;width:16.98px;height:22px"><svg width="16.98" height="22" viewBox="0 0 16.98 22"><text class="n" x="8.49" y="19.36">1</text></svg></span><span class="t" style="left:130.11px;top:4.85px;width:16.98px;height:22px"><svg width="16.98" height="22" viewBox="0 0 16.98 22"><text class="n" x="8.49" y="19.36">2</text></svg></span><s style="left:55.3px"></s><s style="left:109.2px"></s></div>
<div class="bx" style="left:446.8px;width:163px"><span class="t" style="left:20.11px;top:4.85px;width:16.98px;height:22px"><svg width="16.98" height="22" viewBox="0 0 16.98 22"><text class="n" x="8.49" y="19.36">3</text></svg></span><span class="t" style="left:76.01px;top:4.85px;width:16.98px;height:22px"><svg width="16.98" height="22" viewBox="0 0 16.98 22"><text class="n" x="8.49" y="19.36">8</text></svg></span><span class="t" style="left:123.49px;top:4.85px;width:24.82px;height:22px"><svg width="24.82" height="22" viewBox="0 0 24.82 22"><text class="n" x="12.41" y="19.36">-5</text></svg></span><s style="left:51.9px"></s><s style="left:105.6px"></s></div>
<div class="pts" style="left:612.7px;width:56.5px"><span class="t" style="left:19.02px;top:4.7px;width:17.16px;height:22.3px"><svg width="17.16" height="22.3" viewBox="0 0 17.16 22.3"><text class="p" x="8.58" y="19.62">4</text></svg></span></div>
</div>
<div class="row" style="top:837.55px">
<div class="rank" style="left:45.8px;width:43px"><span class="t" style="left:11.66px;top:3.42px;width:26.02px;height:25.2px"><svg width="26.02" height="25.2" viewBox="0 0 26.02 25.2"><text class="r" x="13.01" y="22.18">11</text></svg></span></div>
<div class="team" style="left:91.8px;width:130.9px"><span class="lg"><svg viewBox="0 0 24 26" width="24" height="26" aria-hidden="true"><circle cx="12.400" cy="12.800" r="11.400" fill="#c92a3a"/><circle cx="12.400" cy="12.800" r="11.400" fill="none" stroke="#b3202f" stroke-width=".8"/><circle cx="12.400" cy="11.600" r="6.600" fill="#fbdcdc"/><circle cx="12.400" cy="11.600" r="6.600" fill="none" stroke="#e88a90" stroke-width=".8"/><path d="M8.400 15.600L8.400 8.400L10 9.600L11.200 7.600L12.400 9.200L13.600 7.600L14.800 9.600L16.400 8.400L16.400 15.600Z" fill="#fff"/><path d="M11.200 16.400L11.200 11.600Q12.400 9.600 13.600 11.600L13.600 16.400Z" fill="#8d1b27"/><path d="M9.600 9.600v6M15.200 9.600v6" stroke="#d4525c" stroke-width=".7"/><path d="M6.200 19.200Q12.400 23.400 18.600 19.200" stroke="#f6c4c6" stroke-width="1.600" fill="none"/></svg></span><span class="t" style="left:41.37px;top:6.35px;width:63.8px;height:19.6px"><svg width="63.8" height="19.6" viewBox="0 0 63.8 19.6"><text class="m" x="31.9" y="17.25" textLength="59.8" lengthAdjust="spacingAndGlyphs">苏州队</text></svg></span></div>
<div class="bx" style="left:227px;width:50.6px"><span class="t" style="left:17.21px;top:4.85px;width:16.98px;height:22px"><svg width="16.98" height="22" viewBox="0 0 16.98 22"><text class="n" x="8.49" y="19.36">3</text></svg></span></div>
<div class="bx" style="left:280px;width:163.4px"><span class="t" style="left:20.31px;top:4.85px;width:16.98px;height:22px"><svg width="16.98" height="22" viewBox="0 0 16.98 22"><text class="n" x="8.49" y="19.36">0</text></svg></span><span class="t" style="left:74.81px;top:4.85px;width:16.98px;height:22px"><svg width="16.98" height="22" viewBox="0 0 16.98 22"><text class="n" x="8.49" y="19.36">3</text></svg></span><span class="t" style="left:130.11px;top:4.85px;width:16.98px;height:22px"><svg width="16.98" height="22" viewBox="0 0 16.98 22"><text class="n" x="8.49" y="19.36">0</text></svg></span><s style="left:55.3px"></s><s style="left:109.2px"></s></div>
<div class="bx" style="left:446.8px;width:163px"><span class="t" style="left:20.11px;top:4.85px;width:16.98px;height:22px"><svg width="16.98" height="22" viewBox="0 0 16.98 22"><text class="n" x="8.49" y="19.36">4</text></svg></span><span class="t" style="left:76.01px;top:4.85px;width:16.98px;height:22px"><svg width="16.98" height="22" viewBox="0 0 16.98 22"><text class="n" x="8.49" y="19.36">4</text></svg></span><span class="t" style="left:127.41px;top:4.85px;width:16.98px;height:22px"><svg width="16.98" height="22" viewBox="0 0 16.98 22"><text class="n" x="8.49" y="19.36">0</text></svg></span><s style="left:51.9px"></s><s style="left:105.6px"></s></div>
<div class="pts" style="left:612.7px;width:56.5px"><span class="t" style="left:19.02px;top:4.7px;width:17.16px;height:22.3px"><svg width="17.16" height="22.3" viewBox="0 0 17.16 22.3"><text class="p" x="8.58" y="19.62">3</text></svg></span></div>
</div>
<div class="row" style="top:887.15px">
<div class="rank" style="left:45.8px;width:43px"><span class="t" style="left:9.39px;top:3.42px;width:30.53px;height:25.2px"><svg width="30.53" height="25.2" viewBox="0 0 30.53 25.2"><text class="r" x="15.27" y="22.18">12</text></svg></span></div>
<div class="team" style="left:91.8px;width:130.9px"><span class="lg"><svg viewBox="0 0 24 26" width="24" height="26" aria-hidden="true"><g stroke="#d9d9e2" stroke-width="1.300" stroke-linecap="round"><path d="M12.400 1.800v3M7.200 3.200l1.200 2.600M17.600 3.200l-1.200 2.600M3.400 6.800l2.400 1.800M21.400 6.800l-2.400 1.800M1.800 11.800l2.800.6M23 11.800l-2.800.6M2.400 17l2.600-.9M22.400 17l-2.600-.9"/></g><circle cx="12.500" cy="13.900" r="8.400" fill="#2b2d86"/><circle cx="12.500" cy="13.900" r="8.400" fill="none" stroke="#5558b0" stroke-width=".6"/><path d="M13.600 7.200L11.400 12.600L6.400 14.400L10.600 15.600L8.600 17.800L12 16.400L15.600 18.200L13.200 14.800L12.800 12.400Z" fill="#f2f2fb"/><path d="M5.400 17.200Q9.600 15.800 13.400 17.400T19.800 17.200" stroke="#cfd1f0" stroke-width="1.200" fill="none"/><circle cx="17" cy="12" r="1.100" fill="#8d90dc"/><circle cx="12.800" cy="13.800" r=".9" fill="#1a1c5c"/><rect x="8" y="24.200" width="8.800" height=".8" fill="#dedee6"/></svg></span><span class="t" style="left:40.63px;top:6.35px;width:64.54px;height:19.6px"><svg width="64.54" height="19.6" viewBox="0 0 64.54 19.6"><text class="m" x="32.27" y="17.25" textLength="60.54" lengthAdjust="spacingAndGlyphs">镇江队</text></svg></span></div>
<div class="bx" style="left:227px;width:50.6px"><span class="t" style="left:17.21px;top:4.85px;width:16.98px;height:22px"><svg width="16.98" height="22" viewBox="0 0 16.98 22"><text class="n" x="8.49" y="19.36">4</text></svg></span></div>
<div class="bx" style="left:280px;width:163.4px"><span class="t" style="left:20.31px;top:4.85px;width:16.98px;height:22px"><svg width="16.98" height="22" viewBox="0 0 16.98 22"><text class="n" x="8.49" y="19.36">1</text></svg></span><span class="t" style="left:74.81px;top:4.85px;width:16.98px;height:22px"><svg width="16.98" height="22" viewBox="0 0 16.98 22"><text class="n" x="8.49" y="19.36">0</text></svg></span><span class="t" style="left:130.11px;top:4.85px;width:16.98px;height:22px"><svg width="16.98" height="22" viewBox="0 0 16.98 22"><text class="n" x="8.49" y="19.36">3</text></svg></span><s style="left:55.3px"></s><s style="left:109.2px"></s></div>
<div class="bx" style="left:446.8px;width:163px"><span class="t" style="left:20.11px;top:4.85px;width:16.98px;height:22px"><svg width="16.98" height="22" viewBox="0 0 16.98 22"><text class="n" x="8.49" y="19.36">3</text></svg></span><span class="t" style="left:76.01px;top:4.85px;width:16.98px;height:22px"><svg width="16.98" height="22" viewBox="0 0 16.98 22"><text class="n" x="8.49" y="19.36">9</text></svg></span><span class="t" style="left:123.49px;top:4.85px;width:24.82px;height:22px"><svg width="24.82" height="22" viewBox="0 0 24.82 22"><text class="n" x="12.41" y="19.36">-6</text></svg></span><s style="left:51.9px"></s><s style="left:105.6px"></s></div>
<div class="pts" style="left:612.7px;width:56.5px"><span class="t" style="left:19.02px;top:4.7px;width:17.16px;height:22.3px"><svg width="17.16" height="22.3" viewBox="0 0 17.16 22.3"><text class="p" x="8.58" y="19.62">3</text></svg></span></div>
</div>
<div class="row" style="top:936.75px">
<div class="rank" style="left:45.8px;width:43px"><span class="t" style="left:9.45px;top:3.42px;width:30.53px;height:25.2px"><svg width="30.53" height="25.2" viewBox="0 0 30.53 25.2"><text class="r" x="15.27" y="22.18">13</text></svg></span></div>
<div class="team" style="left:91.8px;width:130.9px"><span class="lg"><svg viewBox="0 0 24 26" width="24" height="26" aria-hidden="true"><defs><linearGradient id="g13" x1="0" y1="0" x2="0" y2="1"><stop offset="0" stop-color="#7b5d3e"/><stop offset=".45" stop-color="#a98a55"/><stop offset="1" stop-color="#d9c07a"/></linearGradient></defs><circle cx="13.200" cy="13" r="11" fill="url(#g13)"/><circle cx="13.200" cy="13.200" r="7.900" fill="#f5e7b3"/><circle cx="13.200" cy="13.200" r="7.900" fill="none" stroke="#e8d290" stroke-width="1"/><circle cx="13" cy="13.200" r="4.200" fill="#fbf5df"/><circle cx="13" cy="13.200" r="4.200" fill="none" stroke="#c7a763" stroke-width=".8"/><circle cx="13.200" cy="13.400" r="1.100" fill="#8b6a3c"/><g fill="#b08a50"><circle cx="11" cy="11.600" r=".7"/><circle cx="15" cy="11.400" r=".7"/><circle cx="11.200" cy="15.400" r=".7"/><circle cx="15" cy="15.200" r=".7"/><circle cx="13.200" cy="10.200" r=".6"/></g><path d="M5.600 7.200Q9 3.200 13.200 3.200T20.800 7.200" stroke="#5c4530" stroke-width="1.300" fill="none" stroke-dasharray="1.300 1"/></svg></span><span class="t" style="left:41.11px;top:6.35px;width:64.06px;height:19.6px"><svg width="64.06" height="19.6" viewBox="0 0 64.06 19.6"><text class="m" x="32.03" y="17.25" textLength="60.06" lengthAdjust="spacingAndGlyphs">常州队</text></svg></span></div>
<div class="bx" style="left:227px;width:50.6px"><span class="t" style="left:17.21px;top:4.85px;width:16.98px;height:22px"><svg width="16.98" height="22" viewBox="0 0 16.98 22"><text class="n" x="8.49" y="19.36">5</text></svg></span></div>
<div class="bx" style="left:280px;width:163.4px"><span class="t" style="left:20.31px;top:4.85px;width:16.98px;height:22px"><svg width="16.98" height="22" viewBox="0 0 16.98 22"><text class="n" x="8.49" y="19.36">0</text></svg></span><span class="t" style="left:74.81px;top:4.85px;width:16.98px;height:22px"><svg width="16.98" height="22" viewBox="0 0 16.98 22"><text class="n" x="8.49" y="19.36">0</text></svg></span><span class="t" style="left:130.11px;top:4.85px;width:16.98px;height:22px"><svg width="16.98" height="22" viewBox="0 0 16.98 22"><text class="n" x="8.49" y="19.36">5</text></svg></span><s style="left:55.3px"></s><s style="left:109.2px"></s></div>
<div class="bx" style="left:446.8px;width:163px"><span class="t" style="left:20.11px;top:4.85px;width:16.98px;height:22px"><svg width="16.98" height="22" viewBox="0 0 16.98 22"><text class="n" x="8.49" y="19.36">0</text></svg></span><span class="t" style="left:69.67px;top:4.85px;width:29.66px;height:22px"><svg width="29.66" height="22" viewBox="0 0 29.66 22"><text class="n" x="14.83" y="19.36">11</text></svg></span><span class="t" style="left:117.15px;top:4.85px;width:37.5px;height:22px"><svg width="37.5" height="22" viewBox="0 0 37.5 22"><text class="n" x="18.75" y="19.36">-11</text></svg></span><s style="left:51.9px"></s><s style="left:105.6px"></s></div>
<div class="pts" style="left:612.7px;width:56.5px"><span class="t" style="left:19.02px;top:4.7px;width:17.16px;height:22.3px"><svg width="17.16" height="22.3" viewBox="0 0 17.16 22.3"><text class="p" x="8.58" y="19.62">0</text></svg></span></div>
</div>
</section>
<footer class="wm">
<svg class="ic wx" width="30" height="26" viewBox="502 1148 30 26" style="position:absolute;left:502px;top:1148px" aria-hidden="true">
<g fill="#fff" fill-opacity=".62">
<path d="M513.2 1151.2C507.9 1151.2 503.7 1154.9 503.7 1159.5C503.7 1162 505 1164.3 507 1165.8L506.2 1168.6L509.4 1167C510.6 1167.4 511.9 1167.7 513.2 1167.7C513.5 1167.7 513.8 1167.7 514.1 1167.6C513.8 1166.9 513.7 1166.2 513.7 1165.5C513.7 1161.3 517.6 1157.9 522.5 1157.9C522.6 1157.9 522.6 1157.9 522.7 1157.9C521.9 1154.1 518 1151.2 513.2 1151.2Z"/>
<path d="M522.5 1158.9C518.2 1158.9 514.7 1161.9 514.7 1165.6C514.7 1169.3 518.2 1172.3 522.5 1172.3C523.5 1172.3 524.5 1172.1 525.4 1171.8L528.2 1173.2L527.5 1170.8C529.2 1169.6 530.4 1167.7 530.4 1165.6C530.4 1161.9 526.8 1158.9 522.5 1158.9Z"/>
</g>
<g fill="#2b79ab" fill-opacity=".85"><circle cx="510.3" cy="1157" r="1"/><circle cx="516.5" cy="1157" r="1"/><circle cx="519.9" cy="1163.6" r=".85"/><circle cx="525.2" cy="1163.6" r=".85"/></g>
</svg>
<span class="t" style="left:535.04px;top:1153.46px;width:165.61px;height:18.8px"><svg width="165.61" height="18.8" viewBox="0 0 165.61 18.8"><text x="82.81" y="16.54" font-size="18.8" fill="#fff" opacity="0.72" textLength="161.61" lengthAdjust="spacing">公众号 · 江苏新闻</text></svg></span>
</footer>
</main>
</body>
</html>
